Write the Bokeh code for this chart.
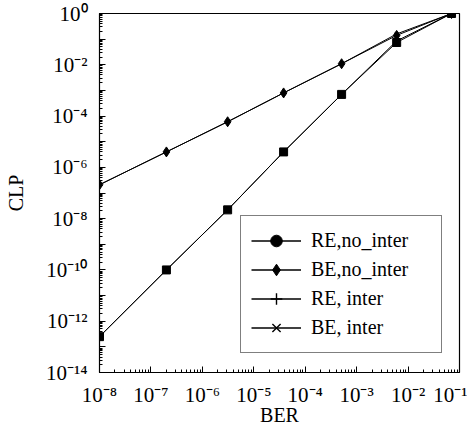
from bokeh.plotting import figure
from bokeh.models import FixedTicker, Legend, LegendItem, ColumnDataSource, Range1d
from bokeh.embed import file_html
from bokeh.resources import INLINE

# Data
ber = [1e-8, 2e-7, 3.1e-6, 3.8e-5, 5.1e-4, 6e-3, 7e-2]
clp_re_no_inter = [2.5e-13, 1e-10, 2.2e-8, 4e-6, 7e-4, 0.074, 1.0]
clp_be_no_inter = [2.1e-7, 4e-6, 6e-5, 8e-4, 1.1e-2, 0.14, 1.0]
clp_re_inter = [2.5e-13, 1e-10, 2.2e-8, 4e-6, 7e-4, 0.085, 1.0]
clp_be_inter = [2.1e-7, 4e-6, 6e-5, 8e-4, 1.1e-2, 0.16, 1.0]

x_exponents = list(range(-8, 0))
y_exponents = list(range(-14, 1))

SUP = str.maketrans("-0123456789", "⁻⁰¹²³⁴⁵⁶⁷⁸⁹")
def pow_label(e):
    return "10" + str(e).translate(SUP)

FONT = "Liberation Serif"

p = figure(width=467, height=431, x_axis_type="log", y_axis_type="log",
           x_range=Range1d(1e-8, 1e-1), y_range=Range1d(1e-14, 1e0),
           output_backend="svg", toolbar_location=None,
           min_border_left=99, min_border_right=8, min_border_top=13,
           min_border_bottom=59)
p.grid.visible = False
p.outline_line_color = "black"
p.outline_line_width = 1.2
p.background_fill_color = "white"
p.border_fill_color = "white"

# x axis ticks
xt = [10.0 ** e for e in x_exponents]
xminor = [k * 10.0 ** e for e in range(-8, -1) for k in range(2, 10)]
p.xaxis.ticker = FixedTicker(ticks=xt, minor_ticks=xminor)
p.xaxis.major_label_overrides = {10.0 ** e: pow_label(e) for e in x_exponents}
# y axis ticks
yt = [10.0 ** e for e in y_exponents]
yminor = [k * 10.0 ** e for e in range(-14, 0) for k in range(2, 10)]
p.yaxis.ticker = FixedTicker(ticks=yt, minor_ticks=yminor)
p.yaxis.major_label_overrides = {10.0 ** e: (pow_label(e) if e % 2 == 0 else "") for e in y_exponents}

for ax in (p.xaxis, p.yaxis):
    ax.major_tick_in = 6
    ax.major_tick_out = 0
    ax.minor_tick_in = 3
    ax.minor_tick_out = 0
    ax.axis_line_color = "black"
    ax.major_tick_line_color = "black"
    ax.minor_tick_line_color = "black"
    ax.major_label_text_font = FONT
    ax.major_label_text_font_size = "21px"
    ax.major_label_text_color = "black"
    ax.axis_label_text_font = FONT
    ax.axis_label_text_font_size = "20px"
    ax.axis_label_text_font_style = "normal"
    ax.axis_label_text_color = "black"

p.xaxis.major_label_standoff = 10
p.yaxis.major_label_standoff = 12
p.xaxis.axis_label = "BER"
p.yaxis.axis_label = "CLP"
p.xaxis.axis_label_standoff = -6
p.yaxis.axis_label_standoff = 16
p.yaxis.major_label_orientation = "horizontal"

src = {
    "re_no": ColumnDataSource(dict(x=ber, y=clp_re_no_inter)),
    "be_no": ColumnDataSource(dict(x=ber, y=clp_be_no_inter)),
    "re_in": ColumnDataSource(dict(x=ber, y=clp_re_inter)),
    "be_in": ColumnDataSource(dict(x=ber, y=clp_be_inter)),
}

# inter series (drawn underneath)
p.line("x", "y", source=src["re_in"], line_color="black", line_width=1)
p.scatter("x", "y", source=src["re_in"], marker="cross", size=6, line_color="black", line_width=1)
p.line("x", "y", source=src["be_in"], line_color="black", line_width=1)
p.scatter("x", "y", source=src["be_in"], marker="x", size=5, line_color="black", line_width=1)
# no_inter series
p.line("x", "y", source=src["re_no"], line_color="black", line_width=1)
p.scatter("x", "y", source=src["re_no"], marker="square", size=8, fill_color="black", line_color="black")
p.line("x", "y", source=src["be_no"], line_color="black", line_width=1)
p.scatter("x", "y", source=src["be_no"], marker="diamond", size=10, fill_color="black", line_color="black")

# legend-only glyphs (their single point lies outside the visible ranges)
off = ColumnDataSource(dict(x=[1e-30], y=[1e-30]))
lg_line = p.line("x", "y", source=off, line_color="black", line_width=1.6)
lg_circle = p.scatter("x", "y", source=off, marker="circle", fill_color="black", line_color="black")
lg_diam = p.scatter("x", "y", source=off, marker="diamond", fill_color="black", line_color="black")
lg_cross = p.scatter("x", "y", source=off, marker="cross", line_color="black", line_width=1.4)
lg_x = p.scatter("x", "y", source=off, marker="x", line_color="black", line_width=1.4)

legend = Legend(items=[
    LegendItem(label="RE,no_inter", renderers=[lg_line, lg_circle]),
    LegendItem(label="BE,no_inter", renderers=[lg_line, lg_diam]),
    LegendItem(label="RE, inter", renderers=[lg_line, lg_cross]),
    LegendItem(label="BE, inter", renderers=[lg_line, lg_x]),
], location=(141, 19))
legend.label_text_font = FONT
legend.label_text_font_size = "20px"
legend.label_text_color = "black"
legend.glyph_width = 50
legend.glyph_height = 29
legend.label_height = 20
legend.label_width = 120
legend.spacing = 0
legend.padding = 10
legend.margin = 0
legend.label_standoff = 10
legend.border_line_color = "black"
legend.border_line_width = 1
legend.background_fill_color = "white"
legend.background_fill_alpha = 1
p.add_layout(legend, "center")

open("out.html", "w").write(file_html(p, INLINE))
